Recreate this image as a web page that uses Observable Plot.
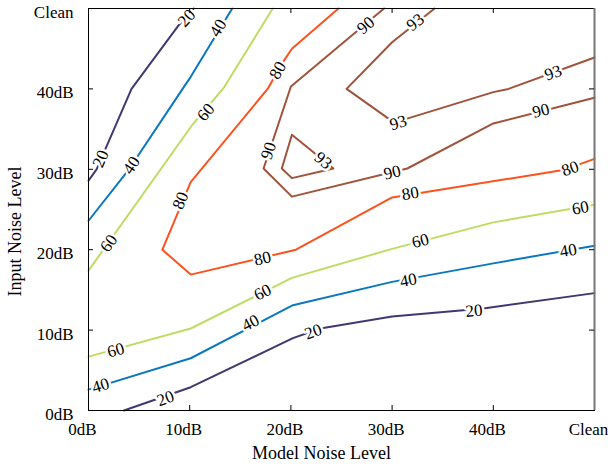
<!DOCTYPE html>
<html><head><meta charset="utf-8">
<script src="https://cdn.jsdelivr.net/npm/d3@7"></script>
<script src="https://cdn.jsdelivr.net/npm/@observablehq/plot@0.6"></script>
<style>body{margin:0;background:#fff} #chart{position:absolute;left:0;top:0}</style>
</head><body><div id="chart"></div>
<script>
const xTicks = [0, 10, 20, 30, 40, 50];
const xTickLabels = ["0dB", "10dB", "20dB", "30dB", "40dB", "Clean"];
const yTicks = [0, 10, 20, 30, 40, 50];
const yTickLabels = ["0dB", "10dB", "20dB", "30dB", "40dB", "Clean"];
const xTitle = "Model Noise Level";
const yTitle = "Input Noise Level";
const levels = [20, 40, 60, 80, 90, 93];
const levelColors = ["#433772", "#0a78c0", "#bfdc62", "#fb521e", "#a0533b", "#a0533b"];

// contour polylines [model dB, input dB] (Clean = 50)
const c20a = [[0,28.6],[0.8,30],[4.25,40],[8.9,47.9],[10.4,50]];
const c40a = [[0,23.6],[4.0,30],[9.3,40],[10.1,41.5],[14.2,50]];
const c60a = [[0,17.4],[10.3,35.6],[13.4,40.2],[18.2,50]];
const c80 = [[24.7,50],[20.1,45.0],[19.2,43.3],[17.7,40.0],[10.1,28.4],[7.3,20.0],[10.1,16.9],[20.5,20.0],[30.0,26.5],[46.9,29.9],[50,31.3]];
const c90 = [[29.2,50],[20.0,40.3],[17.3,30.1],[20.1,26.6],[31.5,30.1],[40.0,35.7],[50,38.9]];
const c93tri = [[20.1,34.3],[24.2,30.1],[20.1,28.9],[19.1,30.1],[20.1,34.3]];
const c93 = [[34.2,50],[30.0,45.8],[25.5,40.0],[30.2,35.8],[40.0,39.6],[41.5,40.0],[50,43.9]];
const c60b = [[0,6.7],[10.1,10.2],[20.1,16.5],[30.0,20.1],[40.0,23.4],[50,25.6]];
const c40b = [[0,2.6],[10.1,6.5],[20.2,13.1],[30.0,16.0],[40.0,18.3],[50,20.5]];
const c20b = [[3.5,0],[10.1,2.9],[20.2,9.0],[22.9,10.2],[30.0,11.7],[39.0,12.7],[50,14.6]];

const contours = [
  {id: "c20a", level: 20, pts: c20a}, {id: "c40a", level: 40, pts: c40a},
  {id: "c60a", level: 60, pts: c60a}, {id: "c80", level: 80, pts: c80},
  {id: "c90", level: 90, pts: c90}, {id: "c93tri", level: 93, pts: c93tri},
  {id: "c93", level: 93, pts: c93}, {id: "c60b", level: 60, pts: c60b},
  {id: "c40b", level: 40, pts: c40b}, {id: "c20b", level: 20, pts: c20b}
];

// inline contour labels: [contour id, x, y]
const labelSpots = [
  ["c20a",1.2,31.3],["c20a",9.7,48.8],
  ["c40a",4.25,30.5],["c40a",12.8,47.6],
  ["c60a",2.0,20.8],["c60a",11.6,37.1],
  ["c80",9.1,26.1],["c80",18.7,42.3],["c80",17.2,18.9],["c80",31.8,27.0],["c80",47.6,30.1],
  ["c90",17.8,32.3],["c90",27.4,47.9],["c90",30.0,29.6],["c90",44.7,37.3],
  ["c93tri",23.2,31.1],
  ["c93",32.3,48.3],["c93",30.6,35.8],["c93",45.9,42.0],
  ["c60b",32.8,21.1],["c60b",48.6,25.2],["c60b",17.2,14.7],["c60b",2.7,7.5],
  ["c40b",47.4,19.9],["c40b",31.6,16.2],["c40b",16.0,10.9],["c40b",1.2,3.1],
  ["c20b",7.6,1.5],["c20b",22.2,9.8],["c20b",38.1,12.4]
];

const W = 608, H = 468, mL = 88, mR = 14, mT = 8, mB = 58;
const pw = W - mL - mR, ph = H - mT - mB;
const kx = pw / 50, ky = ph / 50;

const rows = contours.flatMap(c => c.pts.map(([x, y]) => ({id: c.id, level: c.level, x, y})));

function angleAt(pts, x, y) {
  let best = Infinity, ang = 0;
  for (let i = 0; i < pts.length - 1; i++) {
    const ax = pts[i][0]*kx, ay = -pts[i][1]*ky, bx = pts[i+1][0]*kx, by = -pts[i+1][1]*ky;
    const px = x*kx, py = -y*ky;
    const dx = bx - ax, dy = by - ay;
    const L = dx*dx + dy*dy;
    let t = L ? ((px-ax)*dx + (py-ay)*dy) / L : 0;
    t = Math.max(0, Math.min(1, t));
    const d = Math.hypot(ax + t*dx - px, ay + t*dy - py);
    if (d < best) { best = d; ang = Math.atan2(dy, dx) * 180 / Math.PI; }
  }
  if (ang > 90) ang -= 180;
  if (ang < -90) ang += 180;
  return ang;
}
const byId = Object.fromEntries(contours.map(c => [c.id, c]));
const labelRows = labelSpots.map(([id, x, y]) => ({x, y, text: String(byId[id].level), rotate: angleAt(byId[id].pts, x, y)}));

const font = "'Liberation Serif', 'Times New Roman', serif";
const plot = Plot.plot({
  width: W, height: H, marginLeft: mL, marginRight: mR, marginTop: mT, marginBottom: mB,
  style: {fontFamily: font, fontSize: "16px", background: "white", color: "black", overflow: "visible"},
  x: {domain: [0, 50]},
  y: {domain: [0, 50]},
  color: {type: "ordinal", domain: levels, range: levelColors},
  marks: [
    Plot.line(rows, {x: "x", y: "y", z: "id", stroke: "level", strokeWidth: 2}),
    Plot.text(labelRows, {x: "x", y: "y", text: "text", rotate: "rotate", fill: "black", stroke: "white", strokeWidth: 5, paintOrder: "stroke", fontSize: 17}),
    Plot.frame({stroke: "black", strokeWidth: 1}),
    Plot.ruleX([50], {stroke: "#777", strokeWidth: 2}),
    Plot.tickX(xTicks.slice(1, -1), {x: d => d, insetTop: ph - 5, stroke: "black"}),
    Plot.tickX(xTicks.slice(1, -1), {x: d => d, insetBottom: ph - 5, stroke: "black"}),
    Plot.tickY(yTicks.slice(1, -1), {y: d => d, insetRight: pw - 5, stroke: "black"}),
    Plot.tickY(yTicks.slice(1, -1), {y: d => d, insetLeft: pw - 5, stroke: "black"}),
    Plot.axisX(xTicks, {tickSize: 0, tickPadding: 12, dx: -6, fontSize: 17, label: null, tickFormat: d => xTickLabels[xTicks.indexOf(d)]}),
    Plot.axisY(yTicks, {tickSize: 0, tickPadding: 15, dy: 4, fontSize: 17, label: null, tickFormat: d => yTickLabels[yTicks.indexOf(d)]}),
    Plot.text([xTitle], {frameAnchor: "bottom", textAnchor: "middle", lineAnchor: "middle", dx: -20, dy: 43, fontSize: 18, text: d => d, fill: "black"}),
    Plot.text([yTitle], {frameAnchor: "left", textAnchor: "middle", lineAnchor: "middle", dx: -73, dy: 22, rotate: -90, fontSize: 18, text: d => d, fill: "black"})
  ]
});
document.getElementById("chart").append(plot);
</script>
</body></html>
